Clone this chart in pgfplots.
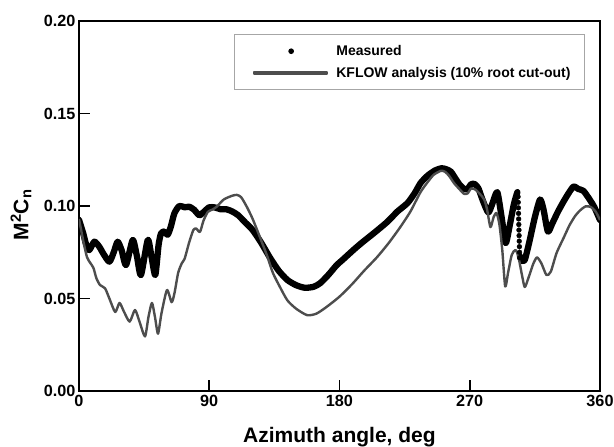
\documentclass[border=0pt]{standalone}
\usepackage{fontspec}
\setmainfont{Liberation Sans}
\usepackage{pgfplots}
\pgfplotsset{compat=1.18}
\definecolor{kgray}{HTML}{4D4D4D}
\pgfplotsset{
  measleg/.style={legend image code/.code={\path (-7pt,0pt) (79pt,0pt);\draw[mark repeat=2,mark phase=2,##1] plot coordinates {(0pt,0pt) (37pt,0pt) (74pt,0pt)};}},
  lineleg/.style={legend image code/.code={\path (-7pt,0pt) (79pt,0pt);\fill[kgray] (0pt,-1pt) rectangle (73pt,1pt);}},
}
\begin{document}
\begin{tikzpicture}
\begin{axis}[
  width=521pt, height=370pt, scale only axis,
  xmin=0, xmax=360, ymin=0, ymax=0.2,
  xtick={0,90,180,270,360},
  ytick={0,0.05,0.10,0.15,0.20},
  yticklabel style={/pgf/number format/fixed, /pgf/number format/fixed zerofill, /pgf/number format/precision=2},
  xtick pos=left, ytick pos=left,
  tick align=inside,
  major tick length=11pt,
  axis line style={line width=1.5pt},
  every tick/.style={black, line width=1.5pt},
  /pgf/number format/assume math mode=true,
  tick label style={font=\bfseries\fontsize{16.2}{16.2}\selectfont},
  xticklabel style={yshift=-1pt},
  xlabel={Azimuth angle, deg},
  ylabel={M\textsuperscript{2}C\textsubscript{n}},
  label style={font=\bfseries\fontsize{21}{21}\selectfont},
  xlabel style={at={(axis description cs:0.5,0)}, anchor=center, yshift=-46pt},
  ylabel style={at={(axis description cs:-0.1113,0.476)}, anchor=center},
  legend style={at={(rel axis cs:0.971,0.9649)}, anchor=north east,
    draw=gray!70, line width=0.8pt,
    font=\bfseries\fontsize{14}{14}\selectfont,
    inner xsep=12pt, inner ysep=9pt, row sep=6pt},
  legend cell align=left,
]
% Measured: dotted column (legend entry)
\addplot[only marks, mark=*, mark size=2.4pt, black, measleg]
  coordinates {
  (303.4,0.105) (303.5,0.102) (303.6,0.099) (303.7,0.096) (303.8,0.093)
  (303.9,0.090) (304.0,0.087) (304.1,0.084) (304.2,0.081) (304.3,0.078)
  (304.4,0.075) (304.5,0.072)
  };
\addlegendentry{Measured}
% Measured: dense data drawn as thick line
\addplot[forget plot, black, line width=6.3pt, line join=round, line cap=round, smooth, tension=0.4]
  coordinates {
  (0,0.0925) (3,0.085) (5,0.079) (7.1,0.0762) (10.6,0.0807) (14,0.078) (17,0.074)
  (21,0.0699) (24,0.075) (26.7,0.0807) (29.5,0.076) (32.5,0.0681) (37.1,0.0816)
  (40,0.073) (42.8,0.0627) (47.5,0.0816) (50,0.073) (52.7,0.0627) (55,0.079)
  (56.7,0.0852) (59,0.0862) (61.3,0.0845) (63.5,0.089) (65.9,0.096) (69.3,0.100)
  (73,0.0993) (76.2,0.0996) (79.5,0.098) (83.2,0.095) (86.5,0.097) (90,0.0993)
  (94,0.0992) (98,0.0982) (102,0.0982) (106,0.097) (110,0.095) (115,0.091)
  (120,0.087) (126,0.080) (132,0.072) (138,0.065) (144,0.060) (150,0.0572)
  (156,0.0558) (162,0.0563) (166.5,0.0582) (172,0.0625) (178,0.068) (182,0.0708)
  (190,0.0765) (196,0.0805) (204,0.0855) (213,0.0914) (220,0.097) (227,0.1016)
  (232,0.107) (236,0.1124) (241,0.1165) (246,0.1192) (250.6,0.1204) (254,0.1198)
  (257,0.1185) (260,0.115) (263,0.1115) (266,0.1093) (268.5,0.1092) (271,0.1118)
  (273.5,0.1118) (276,0.1095) (279,0.103) (282.8,0.0965) (285.5,0.101)
  (289,0.1075) (292,0.094) (294.8,0.0800) (297.5,0.089) (300.5,0.101) (302.9,0.1075)
  };
\addplot[forget plot, black, line width=6.3pt, line join=round, line cap=round, smooth, tension=0.4]
  coordinates {
  (304.6,0.073) (306,0.0705) (308,0.0708) (311,0.080) (315,0.094) (318.6,0.1035)
  (321,0.098) (324,0.0862) (327,0.0905) (331,0.097) (336,0.104) (341.5,0.1104)
  (345,0.1092) (348.5,0.1082) (352,0.1045) (356,0.0995) (360,0.0924)
  };
% KFLOW analysis
\addplot[kgray, line width=2.4pt, line join=round, smooth, tension=0.4, lineleg]
  coordinates {
  (0,0.093) (3,0.081) (5.5,0.0724) (8,0.069) (10,0.0665) (12,0.061) (14.5,0.0573)
  (18,0.0555) (21,0.050) (25,0.0427) (28,0.0476) (31,0.043) (35,0.0375)
  (38.7,0.0438) (42,0.037) (45.6,0.0295) (48,0.040) (50.4,0.0476) (52.5,0.040)
  (54.6,0.031) (57,0.042) (60.8,0.0546) (64,0.048) (66,0.053) (68.5,0.0638)
  (71,0.069) (73,0.0715) (76,0.080) (79,0.087) (81,0.0878) (83.6,0.086) (86,0.092)
  (89,0.0968) (92,0.098) (95,0.0995) (100,0.1035) (105.7,0.1055) (109,0.106)
  (112,0.1048) (116,0.0995) (120,0.093) (125,0.0832) (130,0.073) (134,0.0638)
  (139,0.056) (144,0.049) (150,0.0445) (157.6,0.041) (164,0.0418) (171,0.0454)
  (180,0.051) (189,0.058) (197,0.065) (206,0.0724) (214,0.080) (222,0.0886)
  (229,0.097) (236,0.1075) (241,0.113) (245,0.1168) (250,0.119) (253,0.1185)
  (256,0.116) (259,0.1125) (263,0.109) (266,0.1066) (268.5,0.1068) (271,0.1095)
  (274,0.1088) (277,0.1065) (280,0.1035) (282,0.098) (284.3,0.0886) (286.5,0.094)
  (288.5,0.0962) (290.5,0.090) (292.5,0.076) (294.5,0.0565) (296.5,0.064)
  (299,0.0735) (301.5,0.0762) (303.5,0.073) (306,0.063) (308,0.0562) (310.5,0.061)
  (314,0.069) (316.5,0.0722) (319.5,0.069) (323,0.0627) (326,0.0645) (330,0.0746)
  (335,0.083) (339,0.0897) (343,0.0948) (346.5,0.0978) (350,0.0998) (353.5,0.0995)
  (357,0.097) (360,0.0924)
  };
\addlegendentry{KFLOW analysis (10\% root cut-out)}
\end{axis}
\pgfresetboundingbox
\path[use as bounding box] ([xshift=-79pt,yshift=-56pt]current axis.south west) rectangle ([xshift=14pt,yshift=21pt]current axis.north east);
\end{tikzpicture}
\end{document}
